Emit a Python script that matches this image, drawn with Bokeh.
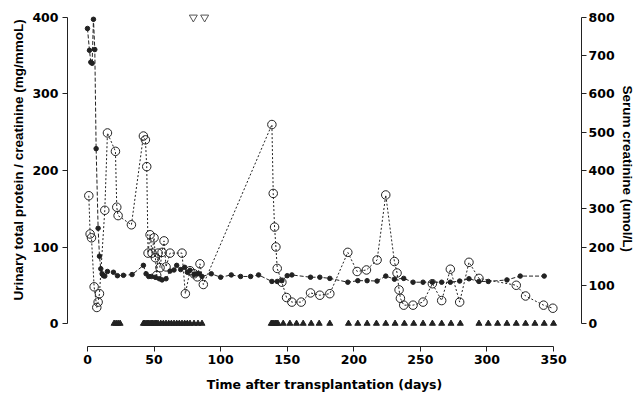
from bokeh.plotting import figure
from bokeh.models import Range1d, LinearAxis, FixedTicker, Title
from bokeh.embed import file_html
from bokeh.resources import INLINE

# Urinary total protein / creatinine (mg/mmol) - open circles, left axis
prot_day = [1, 2, 3, 5, 7, 8, 9, 13, 15, 21, 22, 23, 33,
            42, 43.5, 44.5, 45.5, 47, 48.5, 50, 51, 52, 53, 54.5, 56, 57.5, 59, 62, 71, 73.5,
            77, 80, 82.5, 84.5, 87,
            138.5, 139.5, 140.5, 141.5, 142.5, 146, 149.5, 153.5, 160.5, 167.5, 174.5, 182,
            195.5, 202.5, 209.5, 217.5, 224, 230.5, 232.5, 234, 235, 237.5, 244.5, 252, 259,
            266, 272.5, 279.5, 286.5, 294, 322, 329, 342.5, 349.5]
prot_val = [167, 117, 112, 48, 21, 28, 39, 148, 249, 225, 152, 141, 129,
            245, 240, 205, 92, 116, 92, 112, 86, 63, 92, 73, 93, 108, 74, 92, 92, 39,
            69, 65, 61, 78, 51,
            260, 170, 126, 100, 72, 54, 34, 28, 28, 40, 37, 39,
            93, 68, 70, 83, 168, 81, 66, 44, 33, 24, 24, 28, 52,
            30, 71, 28, 80, 59, 50, 36, 24, 20]

# Serum creatinine (umol/L) - filled dots, right axis
cr_day = [0, 1.5, 2.5, 3.5, 4.5, 5.5, 6.5, 8, 9, 10, 11, 12, 13, 15, 19.5, 22.5, 27, 33.5,
          42, 44, 46, 48, 51, 54, 56, 59, 62, 65, 67, 70, 73, 75, 77, 80, 82, 84, 86,
          93, 100, 108, 115, 122.5, 128.5, 138.5, 142.5, 146, 150, 153.5, 167.5, 174.5,
          182, 195.5, 203, 210, 217.5, 224, 230.5, 237.5, 244.5, 252, 259, 266, 272.5,
          279.5, 286.5, 294, 301, 315, 325, 343]
cr_val = [771, 714, 683, 680, 795, 716, 457, 249, 176, 143, 130, 125, 124, 136, 134, 125, 126, 128,
          152, 130, 123, 123, 121, 117, 114, 117, 137, 140, 152, 141, 147, 134, 139, 128, 130, 130, 123,
          130, 121, 127, 123, 123, 127, 110, 110, 112, 125, 127, 121, 121,
          118, 108, 112, 112, 111, 124, 116, 118, 108, 108, 108, 108, 108,
          111, 117, 110, 110, 114, 124, 124]

# Filled triangles (treatment days) and open inverted triangles (events)
tri_day = [20, 21.5, 23, 24.5,
           42, 43, 44, 45, 46, 47, 48, 49, 50, 51, 52, 53, 55, 57, 59, 61, 63, 65, 67, 69,
           71, 73, 75, 77, 80, 83, 86,
           138, 139, 140, 141, 142, 143, 147, 152, 157, 162, 168, 174, 182,
           196, 203, 210, 217, 224, 231, 238, 245, 252, 259, 266, 273, 280,
           294, 301, 308, 315, 322, 329, 336, 343, 350]
tri_level = 0
event_day = [79.5, 88]
event_level = 400

x_ticks = [0, 50, 100, 150, 200, 250, 300, 350]
left_ticks = [0, 100, 200, 300, 400]
right_ticks = [0, 100, 200, 300, 400, 500, 600, 700, 800]

x_title = "Time after transplantation (days)"
left_title = "Urinary total protein / creatinine (mg/mmoL)"
right_title = "Serum creatinine (umol/L)"

FONT_H = "DejaVu Sans"       # horizontal texts (wide glyphs as in the reference)
FONT_V = "Liberation Sans"   # rotated titles
INK = "#222222"

p = figure(width=639, height=394, output_backend="svg", toolbar_location=None,
           x_range=Range1d(-15, 371), y_range=Range1d(-30, 409),
           min_border_left=67, min_border_right=58, min_border_top=10, min_border_bottom=48,
           x_axis_location=None, y_axis_location=None)
p.extra_y_ranges = {"cr": Range1d(-60, 818)}
p.outline_line_color = None
p.xgrid.visible = False
p.ygrid.visible = False


def style(ax):
    ax.axis_line_color = INK
    ax.major_tick_line_color = INK
    ax.major_tick_out = 5
    ax.major_tick_in = 0
    ax.minor_tick_out = 0
    ax.minor_tick_in = 0
    ax.major_label_text_font = FONT_H
    ax.major_label_text_font_style = "bold"
    ax.major_label_text_font_size = "12.5px"
    ax.major_label_text_color = "black"
    ax.axis_label_text_font = FONT_H
    ax.axis_label_text_font_style = "bold"
    ax.axis_label_text_font_size = "12.5px"
    ax.axis_label_text_color = "black"


xa = LinearAxis(ticker=FixedTicker(ticks=x_ticks), bounds=(0, 350), axis_label=x_title)
style(xa)
xa.major_label_standoff = 3
xa.axis_label_standoff = 10
p.add_layout(xa, "below")

la = LinearAxis(ticker=FixedTicker(ticks=left_ticks), bounds=(0, 400))
style(la)
la.major_label_standoff = 4
p.add_layout(la, "left")

ra = LinearAxis(y_range_name="cr", ticker=FixedTicker(ticks=right_ticks), bounds=(0, 800))
style(ra)
ra.major_label_standoff = 2
p.add_layout(ra, "right")

# rotated axis titles
p.add_layout(Title(text=left_title, align="left", offset=46, standoff=8,
                   text_font=FONT_V, text_font_style="bold", text_font_size="13.5px",
                   text_color="black"), "left")
p.add_layout(Title(text=right_title, align="left", offset=75, standoff=4,
                   text_font=FONT_V, text_font_style="bold", text_font_size="13.5px",
                   text_color="black"), "right")

# serum creatinine
p.line(cr_day, cr_val, y_range_name="cr", line_color=INK, line_width=1, line_dash="4 2")
p.scatter(cr_day, cr_val, y_range_name="cr", marker="circle", size=4.5,
          fill_color=INK, line_color=INK)

# protein / creatinine
p.line(prot_day, prot_val, line_color=INK, line_width=1, line_dash="2 2")
p.scatter(prot_day, prot_val, marker="circle", size=8.5, fill_color=None,
          line_color=INK, line_width=1)

p.scatter(tri_day, [tri_level] * len(tri_day), marker="triangle", size=6,
          fill_color=INK, line_color=INK)
p.scatter(event_day, [event_level] * len(event_day), marker="inverted_triangle", size=8,
          fill_color=None, line_color="#555555", line_width=1)

open("out.html", "w").write(file_html(p, INLINE))
